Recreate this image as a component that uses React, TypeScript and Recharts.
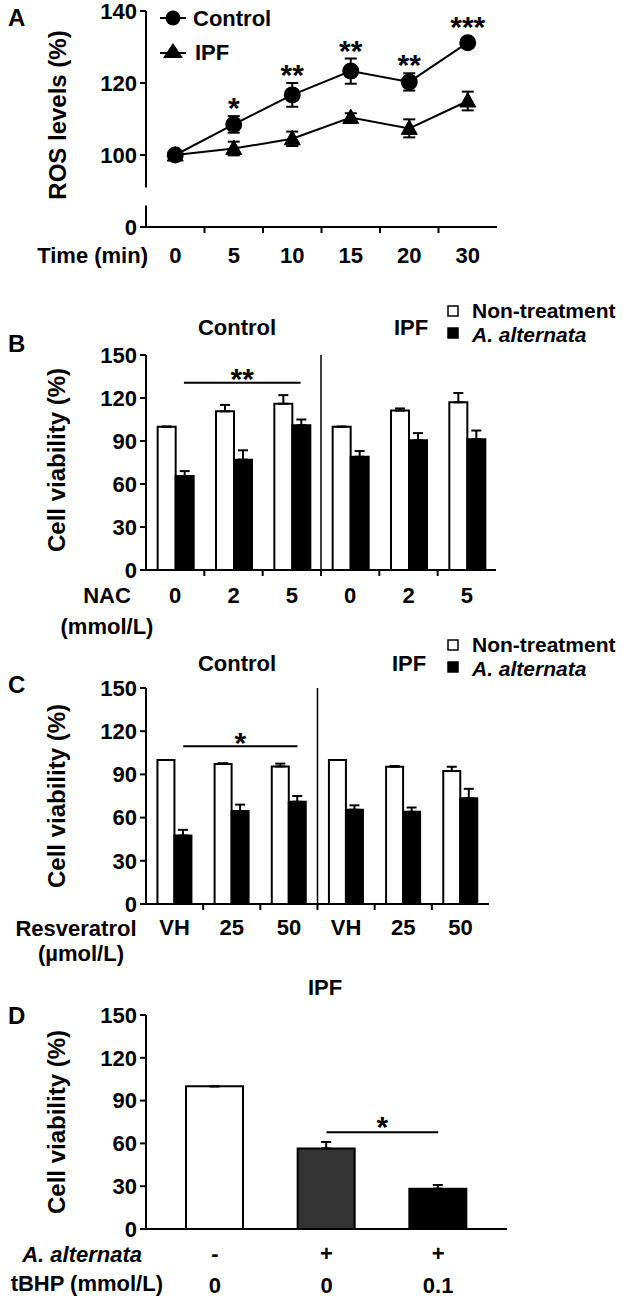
import React from 'react';
import {
  LineChart, Line, BarChart, Bar, XAxis, YAxis, ErrorBar, ReferenceLine,
  LabelList, Legend, Cell,
} from 'recharts';

// ---------------- DATA ----------------
// Panel A
const timePoints = ['0', '5', '10', '15', '20', '30'];
const seriesA = ['Control', 'IPF'];
const controlROS = [100, 108.5, 116.7, 123.3, 120.3, 131.2];
const controlErr = [0.8, 2.3, 3.3, 3.5, 2.4, 1.3];
const ipfROS = [100, 101.8, 104.5, 110.4, 107.4, 115];
const ipfErr = [0.8, 1.9, 2.0, 1.2, 2.5, 2.6];
const rosStars = ['', '*', '**', '**', '**', '***'];
const rosTicks = [80, 100, 120, 140]; // 80 is shown as "0" (broken axis)

// Panel B
const groupTitles = ['Control', 'IPF'];
const seriesBar = ['Non-treatment', 'A. alternata'];
const nacDoses = ['0', '2', '5', '0', '2', '5'];
const nacNonTreat = [100, 110.7, 116, 100, 111.2, 117];
const nacNonTreatErr = [0, 4.5, 6, 0, 1.5, 6.5];
const nacAlt = [65.5, 77, 101, 79, 90.5, 91.3];
const nacAltErr = [3.5, 6.5, 4, 4, 5, 6];
const nacSigLevel = 130.6;
const nacSigStars = '**';

// Panel C
const resvDoses = ['VH', '25', '50', 'VH', '25', '50'];
const resvNonTreat = [100, 97.3, 95.5, 100, 95.3, 92.3];
const resvNonTreatErr = [0, 0.5, 2, 0, 0.5, 3];
const resvAlt = [47.5, 64.5, 71, 65.5, 64, 73.5];
const resvAltErr = [4, 4.5, 4, 3, 3, 6.5];
const resvSigLevel = 109.5;
const resvSigStars = '*';

// Panel D
const altSigns = ['-', '+', '+'];
const tbhpDoses = ['0', '0', '0.1'];
const tbhpViability = [100, 56.5, 28.3];
const tbhpErr = [0, 4.5, 2.5];
const tbhpColors = ['#ffffff', '#333333', '#000000'];
const tbhpSigLevel = 67.8;
const tbhpSigStars = '*';

const viabilityTicks = [0, 30, 60, 90, 120, 150];

// ---------------- STYLE ----------------
const FONT = '"Liberation Sans", Arial, Helvetica, sans-serif';
const tStyle = (size = 22, italic = false): React.CSSProperties => ({
  fontFamily: FONT, fontWeight: 700, fontSize: size, fontStyle: italic ? 'italic' : 'normal',
});
const axisStyle = { stroke: '#000', strokeWidth: 2 };
const yTick = { fill: '#000', fontSize: 22, fontWeight: 700, fontFamily: FONT };
const W = 630;
const AXIS_LEFT = 146;

// ---------------- BUILT TABLES ----------------
const dataA = timePoints.map((t, i) => ({
  t,
  ctrl: controlROS[i],
  ctrlE: controlErr[i],
  ipf: ipfROS[i],
  ipfE: ipfErr[i],
  starY: controlROS[i] + Math.max(controlErr[i], 2.1),
  star: rosStars[i],
}));

const makeBarData = (non: number[], nonE: number[], alt: number[], altE: number[]) =>
  non.map((v, i) => ({ id: `g${i}`, non: v, nonE: [0, nonE[i]], alt: alt[i], altE: [0, altE[i]] }));
const dataB = makeBarData(nacNonTreat, nacNonTreatErr, nacAlt, nacAltErr);
const dataC = makeBarData(resvNonTreat, resvNonTreatErr, resvAlt, resvAltErr);
const dataD = tbhpViability.map((v, i) => ({ id: `d${i}`, v, e: [0, tbhpErr[i]] }));

const idx = (id: string) => Number(String(id).slice(1));

// ---------------- HELPERS ----------------
const bandTick = (labels: string[], half: number, dy: number, marks: boolean) => (p: any) => {
  const i = idx(p.payload?.value ?? p.index);
  const label = labels[i] ?? p.payload?.value;
  return (
    <g>
      {marks && i > 0 && (
        <line x1={p.x - half} x2={p.x - half} y1={p.y} y2={p.y + 6} stroke="#000" strokeWidth={2} />
      )}
      <text x={p.x} y={p.y + dy} textAnchor="middle" fill="#000" style={tStyle(22)}>{label}</text>
    </g>
  );
};

const timeTick = (half: number, dy: number) => (p: any) => {
  const i = timePoints.indexOf(String(p.payload?.value));
  return (
    <g>
      {i > 0 && <line x1={p.x - half} x2={p.x - half} y1={p.y} y2={p.y + 6} stroke="#000" strokeWidth={2} />}
      <text x={p.x} y={p.y + dy} textAnchor="middle" fill="#000" style={tStyle(22)}>{p.payload?.value}</text>
    </g>
  );
};

const dTick = (p: any) => {
  const i = idx(p.payload?.value);
  return (
    <g>
      <text x={p.x} y={p.y + 32} textAnchor="middle" fill="#000" style={tStyle(22)}>{altSigns[i]}</text>
      <text x={p.x} y={p.y + 64} textAnchor="middle" fill="#000" style={tStyle(22)}>{tbhpDoses[i]}</text>
    </g>
  );
};

const triangleDot = (p: any) => {
  const { cx, cy, index } = p;
  if (cx == null || cy == null) return <g key={`tri-${index}`} />;
  return (
    <path key={`tri-${index}`} d={`M${cx},${cy - 8.5} L${cx + 8},${cy + 6} L${cx - 8},${cy + 6} Z`} fill="#000" stroke="#000" />
  );
};

// reference line drawn shifted horizontally by dx px (band-relative), optionally with stars centred above
const shiftedLine = (dx: number, width: number, stars?: string, starDy = 6) => (p: any) => {
  if (p == null || p.x1 == null) return <g />;
  return (
    <g>
      <line x1={p.x1 + dx} y1={p.y1} x2={p.x2 + dx} y2={p.y2} stroke="#000" strokeWidth={width} />
      {stars ? (
        <text x={(p.x1 + p.x2) / 2 + dx} y={p.y1 + starDy} textAnchor="middle" fill="#000" style={tStyle(30)}>{stars}</text>
      ) : null}
    </g>
  );
};

const LegendA = () => (
  <svg width={150} height={70} style={{ overflow: 'visible', display: 'block' }}>
    <line x1={5} x2={31} y1={18} y2={18} stroke="#000" strokeWidth={2} />
    <circle cx={18} cy={18} r={7.5} fill="#000" />
    <text x={38} y={26} fill="#000" style={tStyle(22)}>{seriesA[0]}</text>
    <line x1={5} x2={31} y1={53} y2={53} stroke="#000" strokeWidth={2} />
    <path d="M18,43 L28,58 L8,58 Z" fill="#000" />
    <text x={40} y={60} fill="#000" style={tStyle(22)}>{seriesA[1]}</text>
  </svg>
);

const BarLegend = ({ y0 }: { y0: number }) => (
  <svg width={185} height={64} style={{ overflow: 'visible', display: 'block' }}>
    <rect x={3} y={y0} width={10} height={10} fill="#fff" stroke="#000" strokeWidth={1.5} />
    <text x={27} y={y0 + 12} fill="#000" style={tStyle(21)}>{seriesBar[0]}</text>
    <rect x={3} y={y0 + 22} width={10} height={10} fill="#000" stroke="#000" strokeWidth={1.5} />
    <text x={27} y={y0 + 36} fill="#000" style={tStyle(21, true)}>{seriesBar[1]}</text>
  </svg>
);

// ---------------- CHARTS ----------------
const A_TOP = 11, A_BOTTOM = 227, A_H = 290;
const aPx = (v: number) => ((140 - v) / 60) * (A_BOTTOM - A_TOP);

function ChartA() {
  const breakHi = 91, breakLo = 86;
  const dash = `${aPx(breakHi)} ${aPx(breakLo) - aPx(breakHi)} 1000`;
  return (
    <LineChart width={W} height={A_H} data={dataA} margin={{ top: A_TOP, right: W - 497, bottom: 0, left: 0 }}>
      <XAxis dataKey="t" scale="band" height={A_H - A_BOTTOM} tickLine={false} tickSize={0} tickMargin={0}
        axisLine={axisStyle} tick={timeTick(351 / 12, 36)} interval={0} />
      <YAxis width={AXIS_LEFT} domain={[80, 140]} ticks={rosTicks} allowDataOverflow interval={0}
        tickFormatter={(v: number) => (v === 80 ? '0' : String(v))}
        tickSize={6} tickMargin={3} tickLine={axisStyle}
        axisLine={{ ...axisStyle, strokeDasharray: dash }} tick={yTick} />
      <Line dataKey="ctrl" stroke="#000" strokeWidth={2} isAnimationActive={false}
        dot={{ r: 7.5, fill: '#000', stroke: '#000' }} activeDot={false}>
        <ErrorBar dataKey="ctrlE" width={6} strokeWidth={2} stroke="#000" />
      </Line>
      <Line dataKey="ipf" stroke="#000" strokeWidth={2} isAnimationActive={false}
        dot={triangleDot} activeDot={false}>
        <ErrorBar dataKey="ipfE" width={6} strokeWidth={2} stroke="#000" />
      </Line>
      <Line dataKey="starY" stroke="none" dot={false} activeDot={false} legendType="none" isAnimationActive={false}>
        <LabelList dataKey="star" position="top" offset={-2} fill="#000" fontSize={30} fontWeight={700} fontFamily={FONT} />
      </Line>
      <Legend layout="vertical" align="center" verticalAlign="middle"
        wrapperStyle={{ left: 155, top: 0, width: 150, height: 70 }} content={() => <LegendA />} />
    </LineChart>
  );
}

function GroupBarChart(props: {
  data: any[]; height: number; top: number; plotBottom: number; right: number;
  labels: string[]; tickDy: number; sigLevel: number; sigStars: string; starDy: number; legendY: number;
}) {
  const { data, height, top, plotBottom, right, labels, tickDy, sigLevel, sigStars, starDy, legendY } = props;
  const band = (right - AXIS_LEFT) / 6;
  return (
    <BarChart width={W} height={height} data={data} margin={{ top, right: W - right, bottom: 0, left: 0 }}
      barGap={0} barCategoryGap="20%">
      <XAxis dataKey="id" height={height - plotBottom} tickLine={false} tickSize={0} tickMargin={0}
        axisLine={axisStyle} tick={bandTick(labels, band / 2, tickDy, true)} interval={0} />
      <YAxis width={AXIS_LEFT} domain={[0, 150]} ticks={viabilityTicks} interval={0}
        tickSize={6} tickMargin={3} tickLine={axisStyle} axisLine={axisStyle} tick={yTick} />
      {/* divider between the Control and IPF groups: left edge of group 4 */}
      <ReferenceLine x={data[3].id} shape={shiftedLine(-band / 2, 1.5)} />
      {/* significance bar over the A. alternata bars of groups 1–3 */}
      <ReferenceLine segment={[{ x: data[0].id, y: sigLevel }, { x: data[2].id, y: sigLevel }]}
        shape={shiftedLine(band * 0.15, 2, sigStars, starDy)} />
      <Bar dataKey="non" fill="#fff" stroke="#000" strokeWidth={2} isAnimationActive={false}>
        <ErrorBar dataKey="nonE" width={5} strokeWidth={2} stroke="#000" />
      </Bar>
      <Bar dataKey="alt" fill="#000" stroke="#000" strokeWidth={2} isAnimationActive={false}>
        <ErrorBar dataKey="altE" width={5} strokeWidth={2} stroke="#000" />
      </Bar>
      <Legend layout="vertical" align="center" verticalAlign="middle"
        wrapperStyle={{ left: 445, top: 0, width: 185, height: 64 }} content={() => <BarLegend y0={legendY} />} />
    </BarChart>
  );
}

function ChartD() {
  const H = 324, top = 40, plotBottom = 254, right = 507;
  return (
    <BarChart width={W} height={H} data={dataD} margin={{ top, right: W - right, bottom: 0, left: 0 }} barSize={57}>
      <XAxis dataKey="id" height={H - plotBottom} tickLine={false} tickSize={0} tickMargin={0}
        axisLine={axisStyle} tick={dTick} interval={0} padding={{ left: 13, right: 13 }} />
      <YAxis width={AXIS_LEFT} domain={[0, 150]} ticks={viabilityTicks} interval={0}
        tickSize={6} tickMargin={3} tickLine={axisStyle} axisLine={axisStyle} tick={yTick} />
      <ReferenceLine segment={[{ x: dataD[1].id, y: tbhpSigLevel }, { x: dataD[2].id, y: tbhpSigLevel }]}
        shape={shiftedLine(0, 2, tbhpSigStars, 5)} />
      <Bar dataKey="v" stroke="#000" strokeWidth={2} isAnimationActive={false}>
        {dataD.map((d, i) => <Cell key={d.id} fill={tbhpColors[i]} />)}
        <ErrorBar dataKey="e" width={5} strokeWidth={2} stroke="#000" />
      </Bar>
    </BarChart>
  );
}

// ---------------- OVERLAY TEXT ----------------
function Overlay() {
  const yl = (x: number, y: number, s: string) => (
    <text x={x} y={y} transform={`rotate(-90 ${x} ${y})`} textAnchor="middle" fill="#000" style={tStyle(24)}>{s}</text>
  );
  const t = (x: number, y: number, s: string, anchor = 'start', size = 22, italic = false) => (
    <text x={x} y={y} textAnchor={anchor as any} fill="#000" style={tStyle(size, italic)}>{s}</text>
  );
  return (
    <svg width={W} height={1299} style={{ position: 'absolute', left: 0, top: 0, pointerEvents: 'none' }}>
      {t(8, 26, 'A', 'start', 24)}
      {t(8, 352, 'B', 'start', 24)}
      {t(8, 693, 'C', 'start', 24)}
      {t(8, 1024, 'D', 'start', 24)}
      {yl(66, 115, 'ROS levels (%)')}
      {yl(65, 460, 'Cell viability (%)')}
      {yl(65, 796, 'Cell viability (%)')}
      {yl(65, 1122, 'Cell viability (%)')}
      {t(148, 263, 'Time (min)', 'end')}
      {t(237, 335, groupTitles[0], 'middle')}
      {t(411, 335, groupTitles[1], 'middle')}
      {t(107, 603, 'NAC', 'middle')}
      {t(107, 634, '(mmol/L)', 'middle')}
      {t(237, 671, groupTitles[0], 'middle')}
      {t(409, 671, groupTitles[1], 'middle')}
      {t(76, 936, 'Resveratrol', 'middle')}
      {t(81, 961, '(µmol/L)', 'middle')}
      {t(325, 995, groupTitles[1], 'middle')}
      {t(142, 1262, seriesBar[1], 'end', 22, true)}
      {t(163, 1291, 'tBHP (mmol/L)', 'end')}
    </svg>
  );
}

export default function App() {
  return (
    <div style={{ position: 'absolute', left: 0, top: 0, width: W, height: 1299, background: '#fff', overflow: 'hidden' }}>
      <div style={{ position: 'absolute', left: 0, top: 0 }}>
        <ChartA />
      </div>
      <div style={{ position: 'absolute', left: 0, top: 290 }}>
        <GroupBarChart data={dataB} height={355} top={65} plotBottom={280} right={496}
          labels={nacDoses} tickDy={33} sigLevel={nacSigLevel} sigStars={nacSigStars} starDy={6} legendY={16} />
      </div>
      <div style={{ position: 'absolute', left: 0, top: 630 }}>
        <GroupBarChart data={dataC} height={345} top={58} plotBottom={274} right={489}
          labels={resvDoses} tickDy={31} sigLevel={resvSigLevel} sigStars={resvSigStars} starDy={7} legendY={10} />
      </div>
      <div style={{ position: 'absolute', left: 0, top: 975 }}>
        <ChartD />
      </div>
      <Overlay />
    </div>
  );
}
